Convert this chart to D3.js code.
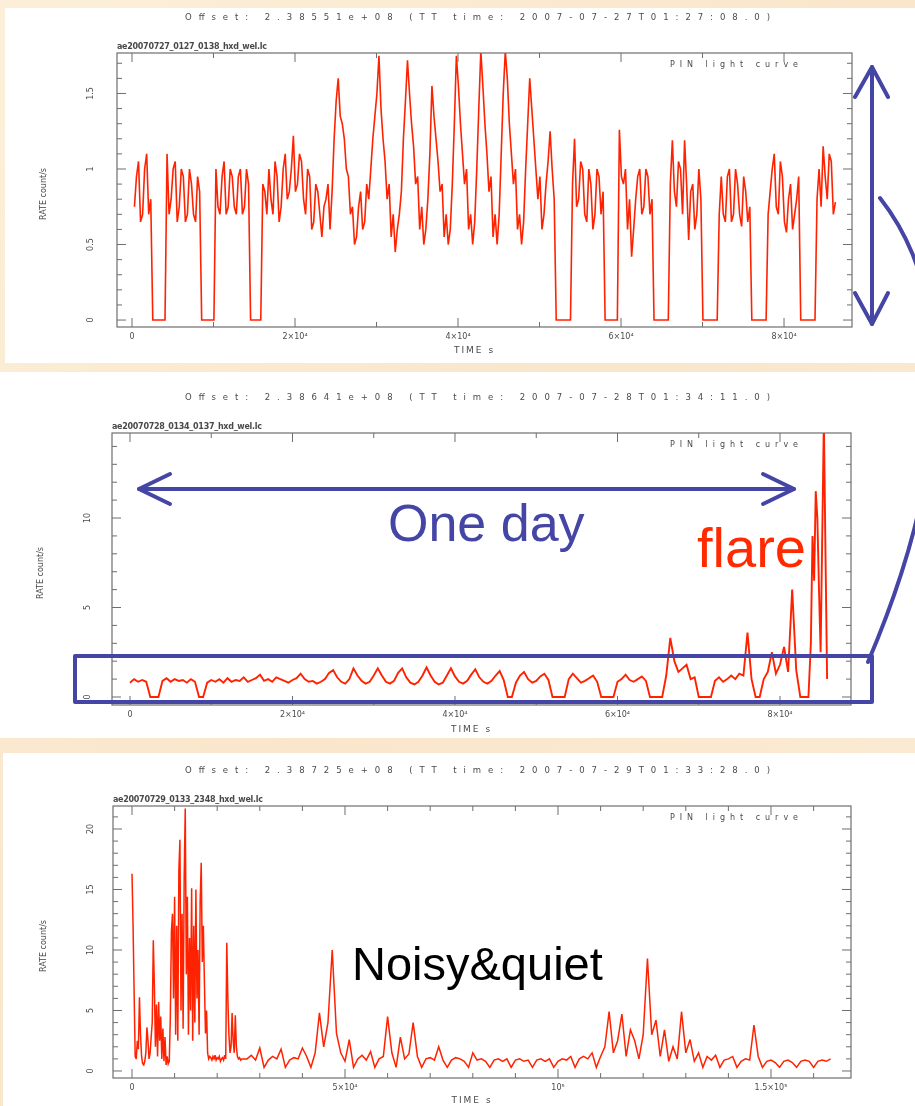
<!DOCTYPE html>
<html><head><meta charset="utf-8">
<script src="https://cdn.jsdelivr.net/npm/d3@7"></script>
<style>
html,body{margin:0;padding:0;background:#fbecd6;}
svg{display:block;}
</style></head><body>
<svg id="c" width="915" height="1106"></svg>
<script>
// ---------------- DATA ----------------
// Panel 1 : 500 s bins starting at 300 s, plus the samples lying half a bin later
const p1Start = 300, p1Step = 500;
const p1Rate = [
0.75,1.05,0.7,1.1,0.8, 0,0,0,
1.1,0.8,1.05,0.75,0.95,0.7,0.9,0.65,0.85, 0,0,0,
1.0,0.7,1.05,0.75,0.95,0.7,1.0,0.75,0.9, 0,0,0,
0.85,1.0,0.7,0.95,0.75,1.1,0.85,1.22,0.9,1.05,0.7,0.95,0.65,0.85,0.55,0.8,0.6,
1.2,1.6,1.3,1.0,0.7,0.5,0.75,0.6,0.9,1.0,1.35,1.75,1.2,0.8,0.55,0.45,0.7,1.2,1.72,1.3,0.9,0.6,0.5,0.8,1.55,1.2,0.85,0.55,0.5,0.9,1.75,1.3,0.9,0.6,0.5,1.0,1.78,1.3,0.85,0.55,0.5,1.1,1.78,1.3,0.9,0.6,0.5,1.0,1.6,1.2,0.8,0.6,0.9,1.25,0.8,
0,0,0,0,
1.2,0.8,1.0,0.65,0.9,0.7,0.95,0.85, 0,0,0,
1.26,0.9,0.6,0.42,0.8,1.0,0.75,0.95,0.8, 0,0,0,0,
1.19,0.75,1.0,1.19,0.53,0.9,0.7,0.8, 0,0,0,0,
0.95,0.65,1.0,0.7,0.9,0.62,0.85,0.75, 0,0,0,0,
0.85,1.1,0.7,0.95,0.58,0.9,0.7,0.95, 0,0,0,0,
1.0,1.15,0.8,1.05,0.78
];
const p1MidStart = 550;
const p1MidRate = [
0.95,0.65,1.0,0.7, 0,0,0,0,
0.7,1.0,0.65,1.0,0.65,1.0,0.7,0.95, 0,0,0,0,
0.75,0.95,0.7,1.0,0.75,0.95,0.7,1.0, 0,0,0, 0.9,
0.7,0.8,1.05,0.65,1.0,0.8,1.0,0.85,1.1,0.8,1.0,0.6,0.9,0.7,0.75,0.9,0.85,
1.45,1.35,1.2,0.95,0.75,0.55,0.85,0.65,0.8,1.2,1.5,1.4,1.05,0.9,0.7,0.6,0.85,1.45,1.5,1.15,0.95,0.75,0.6,1.1,1.35,1.05,0.9,0.7,0.6,1.3,1.55,1.1,1.0,0.7,0.65,1.4,1.55,1.1,0.95,0.7,0.7,1.5,1.6,1.1,1.0,0.7,0.65,1.3,1.4,1.0,0.95,0.7,1.05,1.0,
0,0,0,0, 0.9,
0.75,1.05,0.7,1.0,0.6,1.0,0.7, 0,0,0,0,
0.95,1.0,0.8,0.6,0.95,0.7,1.0,0.7, 0,0,0,0, 0.9,
0.85,1.05,0.7,0.9,0.85,0.6,1.0, 0,0,0,0, 0.7,
0.7,0.95,0.65,1.0,0.7,0.95,0.65, 0,0,0,0, 0.7,
1.0,0.75,1.05,0.65,0.8,0.6,0.8, 0,0,0,0, 0.8,
0.75,0.95,1.1,0.7
];
// Panel 2 : 500 s bins, then a finer flare tail
const p2Start = 0, p2Step = 500;
const p2Rate = [
0.8,1.0,0.85,0.95,0.85, 0,0,0,
0.9,1.05,0.85,1.0,0.9,0.95,0.8,1.0,0.85, 0,0,
0.8,0.95,0.85,1.0,0.8,1.05,0.85,0.95,0.9,1.1,0.85,0.95,1.05,1.25,0.9,1.0,0.85,1.1,1.0,0.9,0.8,0.95,1.05,1.3,1.0,0.85,0.9,0.75,0.85,1.0,
1.35,1.5,1.1,0.85,0.75,1.0,1.6,1.2,0.9,0.75,0.85,1.2,1.6,1.2,0.85,0.75,0.9,1.35,1.6,1.1,0.8,0.7,0.85,1.2,1.65,1.2,0.85,0.7,0.8,1.2,1.6,1.15,0.85,0.75,0.9,1.25,1.55,1.1,0.85,0.75,0.9,1.2,1.45,0.95,
0,0,
0.8,1.2,1.4,1.0,0.8,0.9,1.15,1.3,0.95, 0,0,0,0,
1.0,1.3,1.05,0.8,0.9,1.05,1.2,0.85, 0,0,0,0,
0.85,1.0,1.25,0.95,0.85,1.0,1.15,0.9, 0,0,0,0,
1.2,3.3,2.0,1.4,1.6,1.8,1.0,1.1, 0,0,0,0,
0.9,1.1,0.85,1.0,1.2,1.0,1.3,1.2,3.6,1.0, 0,0,
1.0,1.4,2.5,1.3,1.8,2.8,1.4,6.0,1.5, 0,0,0
];
const p2FlareStart = 83800, p2FlareStep = 200;
const p2FlareRate = [3.0,9.0,6.5,11.5,10.0,6.0,2.5,9.0,15.5,8.0,1.0];
// Panel 3 : early burst at 250 s bins, later at 1000 s bins
const p3EarlyStart = 0, p3EarlyStep = 250;
const p3EarlyRate = [
16.3,12.0,6.4,1.2,1.0,2.5,1.8,6.1,3.0,1.2,
0.6,0.5,0.8,1.5,3.6,2.5,1.0,1.5,2.8,4.0,
10.8,7.0,2.0,5.5,1.2,5.7,2.5,4.5,1.0,3.5,0.8,2.8,0.5,1.2,0.6,0.8,4.5,
11.5,13.0,6.0,14.4,3.0,12.0,2.5,16.5,19.1,5.0,13.0,3.5,16.0,21.7,8.0,14.4,3.0,11.0,5.0,15.1,2.5,12.0,4.0,15.0,6.0,10.0,3.0,14.0,17.2,9.0,12.0,7.3,3.1,5.0,1.5,1.0,1.2,
1.1,0.9,1.2,1.0,1.3,0.9,1.1,1.0,1.2,0.8,1.0,1.1,0.9,1.3,1.0,
10.6,6.0,3.0,1.5,2.0,4.8,2.5,1.5,4.6,2.0,1.2,1.0,1.1,0.9,1.0
];
const p3LateStart = 27000, p3LateStep = 1000;
const p3LateRate = [
1.0,1.3,0.9,1.9,0.3,0.9,1.2,1.0,1.8,0.3,0.9,1.1,1.0,1.9,1.2,0.3,1.5,4.8,2.0,4.0,
10.0,3.1,1.5,0.8,2.6,0.3,1.0,1.3,0.9,1.6,0.3,1.0,1.2,4.5,1.5,0.3,2.8,1.0,1.4,4.0,
1.2,0.3,1.0,1.1,0.9,2.0,0.9,0.3,0.9,1.1,1.0,0.8,0.3,1.5,0.9,1.0,0.8,0.3,0.9,1.0,
0.8,1.0,0.3,0.9,1.0,0.8,0.9,0.3,0.9,1.0,0.8,1.0,0.3,0.8,1.0,0.9,1.2,0.3,1.0,1.2,
1.0,1.5,0.3,1.2,2.0,4.9,1.5,2.5,4.7,1.2,3.4,2.5,1.0,3.0,9.3,3.0,4.2,1.2,3.4,0.8,
2.0,1.0,4.9,1.5,2.6,0.8,1.5,0.3,1.2,0.9,1.3,0.3,0.9,1.0,1.2,0.3,0.8,1.0,0.9,3.8,
1.2,0.3,0.8,0.9,0.7,0.3,0.8,0.9,0.7,0.3,0.8,0.9,0.8,0.3,0.8,0.9,0.8,1.0
];

const titles = [
  "Offset: 2.38551e+08 (TT time:   2007-07-27T01:27:08.0)",
  "Offset: 2.38641e+08 (TT time:   2007-07-28T01:34:11.0)",
  "Offset: 2.38725e+08 (TT time:   2007-07-29T01:33:28.0)"
];
const fileNames = [
  "ae20070727_0127_0138_hxd_wel.lc",
  "ae20070728_0134_0137_hxd_wel.lc",
  "ae20070729_0133_2348_hxd_wel.lc"
];
const curveName = "PIN light curve";
const yTitle = "RATE count/s";
const xTitle = "TIME s";
const xTicks12 = [0, 20000, 40000, 60000, 80000];
const xTickLabels12 = ["0", "2×10⁴", "4×10⁴", "6×10⁴", "8×10⁴"];
const xTicks3 = [0, 50000, 100000, 150000];
const xTickLabels3 = ["0", "5×10⁴", "10⁵", "1.5×10⁵"];
const yTicks1 = [0, 0.5, 1, 1.5], yTickLabels1 = ["0", "0.5", "1", "1.5"];
const yTicks2 = [0, 5, 10], yTickLabels2 = ["0", "5", "10"];
const yTicks3 = [0, 5, 10, 15, 20], yTickLabels3 = ["0", "5", "10", "15", "20"];
const xRange1 = [-1840, 88340], yRange1 = [-0.046, 1.768];
const xRange2 = [-2215, 88740], yRange2 = [-0.447, 14.75];
const xRange3 = [-4460, 168780], yRange3 = [-0.58, 21.9];

// ---------------- BUILD ----------------
const series = (start, step, vals) => vals.map((v, i) => ({t: start + i * step, v}));
const p1Data = series(p1Start, p1Step, p1Rate).concat(series(p1MidStart, p1Step, p1MidRate)).sort((a, b) => a.t - b.t);
const panels = [
  {bg: [5, 8, 910, 355], frame: [117, 53, 852, 327], xd: xRange1, yd: yRange1,
   xt: xTicks12, xl: xTickLabels12, xMinor: 10000, yt: yTicks1, yl: yTickLabels1, yMinor: 0.1,
   data: p1Data, ylabX: 43, yTickX: 90, sw: 1.6, xtY: 26},
  {bg: [0, 372, 915, 366], frame: [112, 433, 851, 705], xd: xRange2, yd: yRange2,
   xt: xTicks12, xl: xTickLabels12, xMinor: 10000, yt: yTicks2, yl: yTickLabels2, yMinor: 1,
   data: series(p2Start, p2Step, p2Rate).concat(series(p2FlareStart, p2FlareStep, p2FlareRate)), ylabX: 40, yTickX: 87, sw: 1.9, xtY: 27},
  {bg: [3, 753, 912, 353], frame: [113, 806, 851, 1078], xd: xRange3, yd: yRange3,
   xt: xTicks3, xl: xTickLabels3, xMinor: 10000, yt: yTicks3, yl: yTickLabels3, yMinor: 1,
   data: series(p3EarlyStart, p3EarlyStep, p3EarlyRate).concat(series(p3LateStart, p3LateStep, p3LateRate)), ylabX: 43, yTickX: 90, sw: 1.5, xtY: 25}
];

const svg = d3.select("#c");
const defs = svg.append("defs");
defs.append("filter").attr("id", "soft").attr("x", "-5%").attr("y", "-5%").attr("width", "110%").attr("height", "110%")
  .append("feGaussianBlur").attr("stdDeviation", 0.55);

const grad = defs.append("linearGradient").attr("id", "peach").attr("x1", 0).attr("y1", 0).attr("x2", 1).attr("y2", 1);
grad.append("stop").attr("offset", "0%").attr("stop-color", "#fcefd9");
grad.append("stop").attr("offset", "50%").attr("stop-color", "#f9e6cb");
grad.append("stop").attr("offset", "100%").attr("stop-color", "#fcecd6");
svg.append("rect").attr("width", 915).attr("height", 1106).attr("fill", "url(#peach)");

const txtCol = "#4a4a4a";
panels.forEach((p, k) => {
  const [fx0, fy0, fx1, fy1] = p.frame;
  svg.append("rect").attr("x", p.bg[0]).attr("y", p.bg[1]).attr("width", p.bg[2]).attr("height", p.bg[3]).attr("fill", "#ffffff");
  const g = svg.append("g").attr("filter", "url(#soft)");
  const x = d3.scaleLinear().domain(p.xd).range([fx0, fx1]);
  const y = d3.scaleLinear().domain(p.yd).range([fy1, fy0]);

  const cid = "clip" + k;
  defs.append("clipPath").attr("id", cid).append("rect").attr("x", fx0).attr("y", fy0).attr("width", fx1 - fx0).attr("height", fy1 - fy0);

  g.append("path").datum(p.data)
    .attr("clip-path", `url(#${cid})`)
    .attr("fill", "none").attr("stroke", "#ff2200").attr("stroke-width", p.sw).attr("stroke-linejoin", "miter")
    .attr("d", d3.line().x(d => x(d.t)).y(d => y(d.v)));

  g.append("rect").attr("x", fx0).attr("y", fy0).attr("width", fx1 - fx0).attr("height", fy1 - fy0)
    .attr("fill", "none").attr("stroke", "#6e6e6e").attr("stroke-width", 1.2);

  const xMin = Math.ceil(p.xd[0] / p.xMinor) * p.xMinor;
  d3.range(xMin, p.xd[1], p.xMinor).forEach(tv => {
    const L = p.xt.includes(tv) ? 9 : 5;
    g.append("line").attr("x1", x(tv)).attr("x2", x(tv)).attr("y1", fy1).attr("y2", fy1 - L).attr("stroke", "#6e6e6e");
    g.append("line").attr("x1", x(tv)).attr("x2", x(tv)).attr("y1", fy0).attr("y2", fy0 + L).attr("stroke", "#6e6e6e");
  });
  const yMin = Math.ceil(p.yd[0] / p.yMinor - 1e-9) * p.yMinor;
  d3.range(0, Math.floor((p.yd[1] - yMin) / p.yMinor + 1e-9) + 1).map(i => +(yMin + i * p.yMinor).toFixed(3)).forEach(tv => {
    const L = p.yt.some(m => Math.abs(m - tv) < 1e-6) ? 9 : 5;
    g.append("line").attr("y1", y(tv)).attr("y2", y(tv)).attr("x1", fx0).attr("x2", fx0 + L).attr("stroke", "#6e6e6e");
    g.append("line").attr("y1", y(tv)).attr("y2", y(tv)).attr("x1", fx1).attr("x2", fx1 - L).attr("stroke", "#6e6e6e");
  });

  p.xt.forEach((tv, i) => {
    g.append("text").attr("x", x(tv)).attr("y", fy1 + 12).attr("text-anchor", "middle")
      .attr("font-family", "DejaVu Sans").attr("font-size", 8).attr("fill", txtCol).text(p.xl[i]);
  });
  g.append("text").attr("x", (fx0 + fx1) / 2 - 10).attr("y", fy1 + p.xtY).attr("text-anchor", "middle")
    .attr("font-family", "DejaVu Sans").attr("font-size", 9).attr("fill", txtCol).attr("letter-spacing", 2).text(xTitle);

  p.yt.forEach((tv, i) => {
    g.append("text").attr("transform", `translate(${p.yTickX},${y(tv)}) rotate(-90)`).attr("text-anchor", "middle")
      .attr("dy", "0.35em").attr("font-family", "DejaVu Sans").attr("font-size", 8).attr("fill", txtCol).text(p.yl[i]);
  });
  g.append("text").attr("transform", `translate(${p.ylabX},${(fy0 + fy1) / 2 + 4}) rotate(-90)`).attr("text-anchor", "middle")
    .attr("dy", "0.35em").attr("font-family", "DejaVu Sans").attr("font-size", 8).attr("fill", txtCol).text(yTitle);

  g.append("text").attr("x", 185).attr("y", fy0 - 33).attr("textLength", 585).attr("lengthAdjust", "spacing")
    .attr("font-family", "DejaVu Sans").attr("font-size", 8.5).attr("fill", txtCol).text(titles[k]);
  g.append("text").attr("x", fx0).attr("y", fy0 - 4).attr("textLength", 150).attr("lengthAdjust", "spacing")
    .attr("font-family", "DejaVu Sans").attr("font-size", 8).attr("font-weight", "bold").attr("fill", txtCol).text(fileNames[k]);
  g.append("text").attr("x", 670).attr("y", fy0 + 14).attr("textLength", 128).attr("lengthAdjust", "spacing")
    .attr("font-family", "DejaVu Sans").attr("font-size", 8).attr("fill", txtCol).text(curveName);
});

// ---------------- ANNOTATIONS ----------------
const blue = "#4545a6";
const ann = svg.append("g").attr("fill", "none").attr("stroke", blue).attr("stroke-width", 4)
  .attr("stroke-linecap", "round").attr("stroke-linejoin", "round");
ann.append("line").attr("x1", 872).attr("y1", 67).attr("x2", 872).attr("y2", 324);
ann.append("polyline").attr("points", "855,97 872,67 888,97");
ann.append("polyline").attr("points", "855,293 872,324 888,293");
ann.append("path").attr("d", "M880,198 C960,300 950,470 868,662");
ann.append("line").attr("x1", 139).attr("y1", 489).attr("x2", 794).attr("y2", 489);
ann.append("polyline").attr("points", "170,474 139,489 170,504");
ann.append("polyline").attr("points", "763,474 794,489 763,504");
ann.append("rect").attr("x", 75).attr("y", 656).attr("width", 797).attr("height", 46);

svg.append("text").attr("x", 388).attr("y", 541).attr("font-family", "Liberation Sans, Arial, sans-serif")
  .attr("font-size", 52).attr("fill", blue).text("One day");
svg.append("text").attr("x", 697).attr("y", 567).attr("font-family", "Liberation Sans, Arial, sans-serif")
  .attr("font-size", 56).attr("fill", "#ff2a00").text("flare");
svg.append("text").attr("x", 352).attr("y", 980).attr("font-family", "Liberation Sans, Arial, sans-serif")
  .attr("font-size", 47).attr("fill", "#000").text("Noisy&quiet");
</script>
</body></html>
